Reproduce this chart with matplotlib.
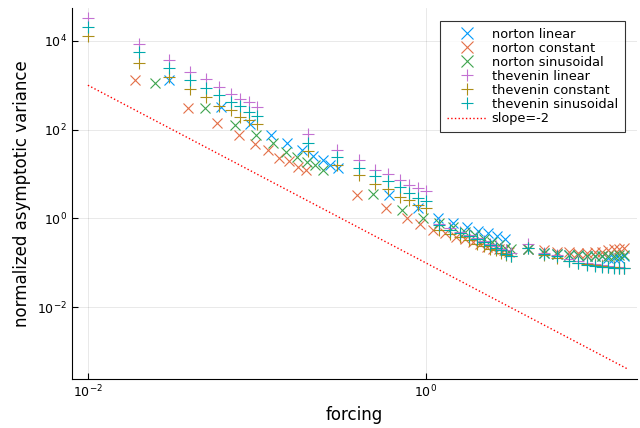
import matplotlib
matplotlib.use("Agg")
import matplotlib.pyplot as plt
from matplotlib.ticker import FixedLocator, NullLocator

# thevenin runs share one forcing grid
thev_x = [0.01, 0.02, 0.03, 0.04, 0.05, 0.06, 0.07, 0.08, 0.09, 0.1,
          0.2, 0.3, 0.4, 0.5, 0.6, 0.7, 0.8, 0.9, 1.0,
          1.2, 1.4, 1.6, 1.8, 2.0, 2.2, 2.4, 2.6, 2.8, 3.0, 3.2,
          4.0, 5, 6, 7, 8, 9, 10, 11, 12, 13, 14, 15]
thev_linear = [3.2e4, 8.7e3, 3.7e3, 2.0e3, 1.35e3, 910, 630, 490, 430, 325,
               81, 35, 21, 12.6, 10, 7.2, 5.6, 4.8, 4.2,
               0.75, 0.6, 0.5, 0.42, 0.36, 0.31, 0.27, 0.24, 0.21, 0.19, 0.17,
               0.27, 0.17, 0.15, 0.12, 0.11, 0.10, 0.095, 0.09, 0.085, 0.082, 0.08, 0.078]
thev_constant = [1.3e4, 3.2e3, 1.5e3, 810, 540, 340, 275, 195, 162, 132,
                 33, 15.8, 9.5, 5.9, 4.5, 3.1, 2.6, 2.0, 1.7,
                 0.55, 0.45, 0.38, 0.32, 0.27, 0.24, 0.21, 0.19, 0.17, 0.15, 0.14,
                 0.22, 0.15, 0.13, 0.11, 0.10, 0.095, 0.09, 0.085, 0.08, 0.08, 0.078, 0.078]
thev_sinusoidal = [2.1e4, 5.5e3, 2.4e3, 1.3e3, 850, 600, 430, 340, 250, 200,
                   50, 24.5, 13.5, 8.9, 7.1, 5.0, 3.8, 2.95, 2.5,
                   0.7, 0.55, 0.46, 0.4, 0.34, 0.29, 0.25, 0.22, 0.19, 0.16, 0.14,
                   0.22, 0.16, 0.14, 0.11, 0.10, 0.09, 0.085, 0.08, 0.08, 0.075, 0.075, 0.075]

norton_const_x = [0.019, 0.039, 0.058, 0.078, 0.097, 0.117, 0.136, 0.156, 0.175, 0.195,
                  0.39, 0.58, 0.77, 0.93, 1.1, 1.3, 1.5, 1.7, 1.9,
                  2.1, 2.3, 2.5, 2.7, 2.9, 3.1,
                  4.0, 5, 6, 7, 8, 9, 10, 11, 12, 13, 14, 15]
norton_constant = [1290, 300, 138, 76, 47, 35, 23, 20, 14.5, 12.3,
                   3.3, 1.68, 1.0, 0.74, 0.56, 0.47, 0.38, 0.34, 0.30,
                   0.26, 0.23, 0.21, 0.20, 0.19, 0.18,
                   0.21, 0.19, 0.18, 0.18, 0.17, 0.17, 0.18, 0.18, 0.19, 0.2, 0.21, 0.22]

norton_sin_x = [0.025, 0.049, 0.074, 0.099, 0.125, 0.149, 0.172, 0.197, 0.22, 0.246,
                0.488, 0.728, 0.964, 1.2, 1.45, 1.7, 1.95, 2.2, 2.45, 2.7, 2.95, 3.2,
                4.0, 5, 6, 7, 8, 9, 10, 11, 12, 13, 14, 15]
norton_sinusoidal = [1120, 300, 126, 76, 49, 32, 24.5, 18.6, 15.8, 12.3,
                     3.6, 1.58, 1.0, 0.8, 0.63, 0.5, 0.42, 0.35, 0.30, 0.25, 0.22, 0.2,
                     0.21, 0.17, 0.16, 0.15, 0.15, 0.14, 0.14, 0.14, 0.14, 0.14, 0.15, 0.15]

norton_lin_x = [0.030, 0.061, 0.091, 0.121, 0.151, 0.184, 0.216, 0.245, 0.27, 0.303,
                0.606, 0.90, 1.18, 1.45, 1.75, 2.05, 2.35, 2.65, 2.95,
                4.0, 5, 6, 7, 8, 9, 10, 11, 12, 13, 14, 15]
norton_linear = [1290, 316, 132, 76, 50, 35, 25, 21, 15.8, 13.5,
                 3.3, 1.7, 1.0, 0.8, 0.63, 0.52, 0.46, 0.40, 0.35,
                 0.21, 0.17, 0.16, 0.15, 0.15, 0.14, 0.14, 0.14, 0.13, 0.13, 0.13, 0.14]

# reference line, slope -2 in log-log
slope_x = [0.01, 15.5]
slope_y = [1000, 4.16e-4]

colors = ["#009AFA", "#E36F47", "#3EA44E", "#C371D2", "#AC8E18", "#00A9AD"]

fig = plt.figure(figsize=(6.4, 4.28), dpi=100)
ax = fig.add_axes([0.112, 0.1145, 0.883, 0.8665])

ms = 7.5
mew = 0.8
ax.plot(norton_lin_x, norton_linear, "x", ms=ms, mew=mew, color=colors[0], label="norton linear")
ax.plot(norton_const_x, norton_constant, "x", ms=ms, mew=mew, color=colors[1], label="norton constant")
ax.plot(norton_sin_x, norton_sinusoidal, "x", ms=ms, mew=mew, color=colors[2], label="norton sinusoidal")
ax.plot(thev_x, thev_linear, "+", ms=ms + 0.5, mew=mew, color=colors[3], label="thevenin linear")
ax.plot(thev_x, thev_constant, "+", ms=ms + 0.5, mew=mew, color=colors[4], label="thevenin constant")
ax.plot(thev_x, thev_sinusoidal, "+", ms=ms + 0.5, mew=mew, color=colors[5], label="thevenin sinusoidal")
ax.plot(slope_x, slope_y, ":", color="red", lw=1.0, label="slope=-2")

ax.set_xscale("log")
ax.set_yscale("log")
ax.set_xlim(10 ** -2.096, 10 ** 1.249)
ax.set_ylim(10 ** -3.615, 10 ** 4.736)

ax.xaxis.set_major_locator(FixedLocator([1e-2, 1e0]))
ax.yaxis.set_major_locator(FixedLocator([1e-2, 1e0, 1e2, 1e4]))
ax.xaxis.set_minor_locator(NullLocator())
ax.yaxis.set_minor_locator(NullLocator())
ax.set_xticklabels([r"$10^{-2}$", r"$10^{0}$"])
ax.set_yticklabels([r"$10^{-2}$", r"$10^{0}$", r"$10^{2}$", r"$10^{4}$"])
ax.tick_params(direction="in", length=4, width=0.8, labelsize=9, colors="black")

ax.grid(True, color="black", alpha=0.1, lw=0.6)
ax.spines["top"].set_visible(False)
ax.spines["right"].set_visible(False)

ax.set_xlabel("forcing", fontsize=12)
ax.set_ylabel("normalized asymptotic variance", fontsize=12)

leg = ax.legend(loc="upper right", fontsize=9.3, frameon=True, fancybox=False,
                edgecolor="black", borderpad=0.55, labelspacing=0.08,
                handlelength=3.0, handletextpad=0.45, markerscale=1.15,
                borderaxespad=0.0, bbox_to_anchor=(0.979, 0.966))
leg.get_frame().set_linewidth(0.8)

fig.savefig("out.png", dpi=100)
